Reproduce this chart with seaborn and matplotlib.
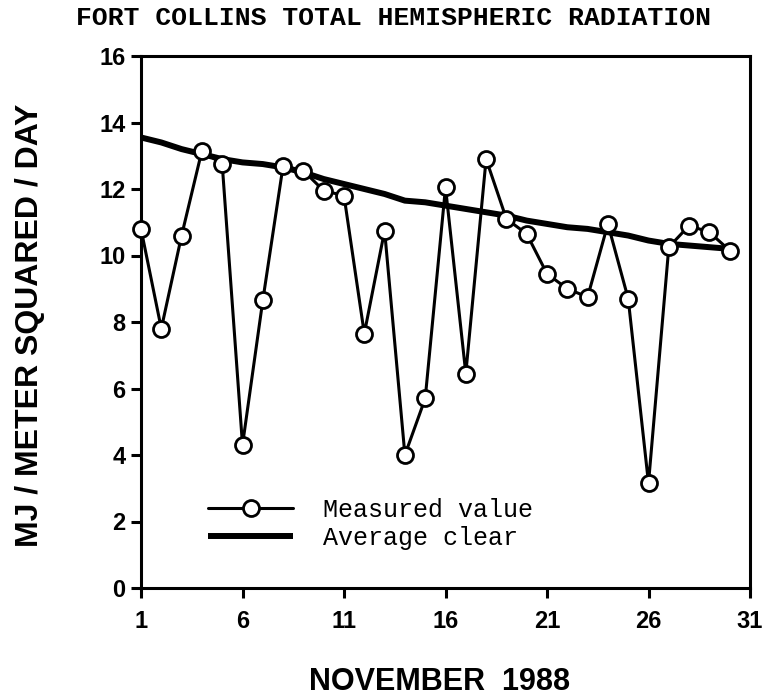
import pandas as pd
import seaborn as sns
from matplotlib import pyplot as plt
from matplotlib.lines import Line2D

# data
days = list(range(1, 31))
measured = [10.8, 7.8, 10.6, 13.15, 12.75, 4.3, 8.65, 12.7, 12.55, 11.95,
            11.8, 7.65, 10.75, 4.0, 5.7, 12.05, 6.45, 12.9, 11.1, 10.65,
            9.45, 9.0, 8.75, 10.95, 8.7, 3.15, 10.25, 10.9, 10.7, 10.15]
avg_clear = [13.55, 13.4, 13.2, 13.05, 12.9, 12.8, 12.75, 12.65, 12.5, 12.3,
             12.15, 12.0, 11.85, 11.65, 11.6, 11.5, 11.4, 11.3, 11.2, 11.05,
             10.95, 10.85, 10.8, 10.7, 10.6, 10.45, 10.35, 10.3, 10.25, 10.2]
xticks = [1, 6, 11, 16, 21, 26, 31]
yticks = [0, 2, 4, 6, 8, 10, 12, 14, 16]

df = pd.DataFrame({'day': days, 'measured': measured, 'avg': avg_clear})

sns.set_style('ticks')
plt.rcParams['font.family'] = ['Liberation Sans', 'DejaVu Sans']
plt.rcParams['text.color'] = 'black'
plt.rcParams['xtick.color'] = 'black'
plt.rcParams['ytick.color'] = 'black'
plt.rcParams['axes.labelcolor'] = 'black'

fig = plt.figure(figsize=(7.64, 7.0), dpi=100)
ax = fig.add_axes([141/764, 1-588/700, 609/764, 532/700])

sns.lineplot(data=df, x='day', y='avg', ax=ax, color='black', linewidth=4.3,
             solid_capstyle='butt', zorder=2)
sns.lineplot(data=df, x='day', y='measured', ax=ax, color='black', linewidth=2.2,
             marker='o', markersize=11.5, markerfacecolor='white',
             markeredgecolor='black', markeredgewidth=2.0, zorder=3, clip_on=False)

ax.set_xlim(1, 31)
ax.set_ylim(0, 16)
ax.set_xticks(xticks)
ax.set_yticks(yticks)
ax.set_xlabel('')
ax.set_ylabel('')
for s in ax.spines.values():
    s.set_visible(True)
    s.set_linewidth(2.2)
    s.set_color('black')
ax.tick_params(axis='both', colors='black', labelcolor='black', width=2.2,
               length=7, direction='out')
ax.tick_params(axis='x', pad=9)
ax.tick_params(axis='y', pad=4)
for lab in ax.get_xticklabels() + ax.get_yticklabels():
    lab.set_fontsize(17)
    lab.set_fontweight('heavy')

# legend
handles = [Line2D([], [], color='black', linewidth=2.2, marker='o', markersize=11.5,
                  markerfacecolor='white', markeredgecolor='black', markeredgewidth=2.0),
           Line2D([], [], color='black', linewidth=4.3, solid_capstyle='butt')]
leg = ax.legend(handles, ['Measured value', 'Average clear'], loc='upper left',
                bbox_to_anchor=(208/764, 1-498/700), bbox_transform=fig.transFigure,
                frameon=False, borderpad=0, borderaxespad=0, handlelength=3.4,
                handletextpad=1.2, labelspacing=0.15,
                prop={'family': 'Liberation Mono', 'size': 18})
for t in leg.get_texts():
    t.set_color('black')

fig.text(393/764, 1-18/700, 'FORT COLLINS TOTAL HEMISPHERIC RADIATION',
         family='Liberation Mono', fontweight='bold', fontsize=19,
         ha='center', va='center', color='black')
fig.text(440/764, 1-682/700, 'NOVEMBER  1988', fontweight='heavy', fontsize=22,
         ha='center', va='center', color='black')
fig.text(30/764, 1-325/700, 'MJ / METER SQUARED / DAY', fontweight='heavy',
         fontsize=23, rotation=90, ha='center', va='center', color='black')

fig.savefig('out.png', dpi=100)
